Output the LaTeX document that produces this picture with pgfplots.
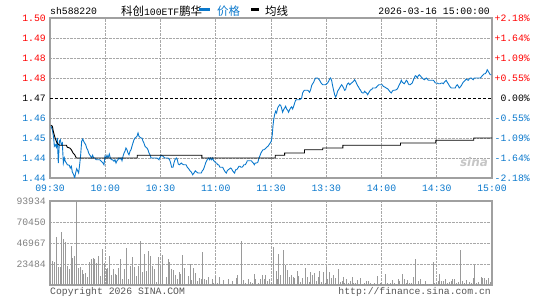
\documentclass[border=0pt]{standalone}
\usepackage{pgfplots}
\pgfplotsset{compat=1.18}
\usepackage{fontspec}
\newfontfamily\mono{Liberation Mono}
\newfontfamily\cjk{Noto Sans CJK SC}
\definecolor{pb}{HTML}{0A78CC}
\definecolor{lblue}{HTML}{0A78CC}
\definecolor{gridc}{HTML}{A8A8A8}
\definecolor{framec}{HTML}{A0A0A0}
\definecolor{volc}{HTML}{9A9A9A}
\definecolor{txtg}{HTML}{808080}
\definecolor{copyg}{HTML}{555555}
\begin{document}
\begin{tikzpicture}
\path[use as bounding box] (0bp,0bp) rectangle (545bp,300bp);
\tikzset{lab/.style={font=\mono\fontsize{9.8}{11}\selectfont, inner sep=0pt}}
% ---------------- price panel ----------------
\begin{axis}[
  at={(50bp,122bp)}, anchor=south west,
  scale only axis, width=442bp, height=160bp,
  xmin=0, xmax=240, ymin=1.436, ymax=1.500,
  xtick={0,30,60,90,120,150,180,210,240},
  ytick={1.436,1.444,1.452,1.460,1.476,1.484,1.492,1.500},
  xticklabels={}, yticklabels={},
  ticklabel style={opacity=0},
  major tick length=0pt,
  grid=major,
  grid style={densely dotted, color=gridc, line width=0.7bp},
  axis line style={framec, line width=1.1bp},
  clip=true,
]
\addplot[black, densely dashed, line width=0.8bp] coordinates {(0,1.468) (240,1.468)};
\addplot[pb, line width=0.9bp] coordinates {
(0.5,1.4567)(1.3,1.4553)(2.0,1.4520)(2.35,1.4487)(2.9,1.4493)(3.45,1.4483)(4.0,1.4520)(4.5,1.4420)(5.1,1.4507)(5.6,1.4513)(6.15,1.4493)(6.7,1.4500)(7.25,1.4420)(7.8,1.4440)(8.3,1.4427)(8.9,1.4420)(9.4,1.4413)(10.5,1.4411)(11.0,1.4400)(11.6,1.4407)(12.1,1.4384)(12.85,1.4373)(13.4,1.4360)(13.9,1.4380)(14.5,1.4397)(15.0,1.4389)(15.55,1.4380)(16.1,1.4413)(16.65,1.4453)(17.2,1.4507)(17.75,1.4516)(18.3,1.4507)(18.8,1.4500)(19.4,1.4493)(19.9,1.4480)(20.45,1.4473)(21.0,1.4460)(21.5,1.4453)(22.1,1.4447)(22.6,1.4440)(23.15,1.4451)(23.7,1.4440)(24.25,1.4440)(25.15,1.4433)(26.05,1.4433)(26.95,1.4433)(27.85,1.4427)(28.75,1.4420)(29.3,1.4413)(29.85,1.4447)(30.4,1.4440)(30.95,1.4451)(31.5,1.4440)(32.2,1.4456)(32.75,1.4440)(33.3,1.4433)(34.0,1.4433)(34.75,1.4427)(35.3,1.4433)(35.85,1.4420)(36.4,1.4429)(36.9,1.4433)(37.45,1.4440)(38.0,1.4436)(38.55,1.4440)(39.1,1.4429)(39.65,1.4447)(40.2,1.4460)(40.7,1.4467)(41.25,1.4480)(41.8,1.4473)(42.35,1.4460)(42.9,1.4453)(43.45,1.4467)(44.0,1.4473)(44.5,1.4487)(45.05,1.4500)(45.6,1.4513)(46.15,1.4520)(46.7,1.4523)(47.25,1.4527)(47.8,1.4540)(48.3,1.4527)(48.85,1.4523)(49.4,1.4520)(49.95,1.4520)(50.5,1.4507)(51.0,1.4500)(51.6,1.4487)(52.1,1.4483)(52.65,1.4480)(53.2,1.4473)(53.75,1.4460)(54.3,1.4453)(54.85,1.4440)(55.9,1.4440)(57.0,1.4440)(58.1,1.4440)(59.2,1.4433)
(59.5,1.4440)(60.45,1.4451)(61.35,1.4447)(62.25,1.4440)(63.15,1.4440)(64.05,1.4440)(64.95,1.4433)(65.5,1.4420)(66.05,1.4403)(66.8,1.4403)(67.3,1.4420)(67.85,1.4433)(68.6,1.4440)(69.15,1.4433)(69.65,1.4416)(70.2,1.4413)(70.75,1.4416)(71.3,1.4420)(71.85,1.4416)(72.55,1.4413)(73.1,1.4413)(73.85,1.4413)(74.55,1.4403)(75.3,1.4397)(76.0,1.4389)(76.75,1.4384)(77.45,1.4373)(78.2,1.4380)(78.9,1.4389)(79.6,1.4384)(80.35,1.4380)(81.25,1.4380)(82.15,1.4380)(82.7,1.4389)(83.25,1.4393)(83.95,1.4407)(84.5,1.4420)(85.05,1.4429)(85.6,1.4436)(86.15,1.4440)(86.7,1.4433)(87.2,1.4440)(87.75,1.4433)(88.3,1.4440)(88.85,1.4429)(89.4,1.4427)(89.95,1.4420)(90.5,1.4420)(91.0,1.4413)(91.55,1.4413)(92.3,1.4403)(93.0,1.4403)(93.75,1.4403)(94.45,1.4393)(95.2,1.4384)(95.75,1.4380)(96.25,1.4389)(96.8,1.4393)(97.55,1.4397)(98.1,1.4400)(98.6,1.4397)(99.15,1.4389)(99.7,1.4384)(100.25,1.4380)(100.8,1.4393)(101.35,1.4393)(102.05,1.4400)(102.6,1.4407)(103.15,1.4407)(103.7,1.4403)(104.25,1.4403)(104.8,1.4407)(105.3,1.4413)(106.05,1.4413)(106.6,1.4420)(107.15,1.4429)(107.85,1.4429)(108.6,1.4429)(109.3,1.4429)(109.85,1.4424)(110.4,1.4420)(110.95,1.4413)(111.45,1.4420)(112.2,1.4420)(112.9,1.4424)(113.45,1.4440)(114.0,1.4449)(114.55,1.4460)(115.1,1.4467)(115.65,1.4473)(116.2,1.4473)(116.7,1.4476)(117.25,1.4480)(117.8,1.4484)(118.35,1.4487)(118.9,1.4493)(119.45,1.4499)
(120.15,1.4507)(120.7,1.4533)(121.05,1.4567)(121.45,1.4593)(121.95,1.4613)(122.5,1.4627)(123.05,1.4620)(123.6,1.4640)(124.15,1.4647)(124.7,1.4653)(125.25,1.4651)(125.75,1.4640)(126.3,1.4623)(126.85,1.4633)(127.4,1.4640)(127.95,1.4647)(128.5,1.4636)(129.05,1.4631)(129.55,1.4623)(130.1,1.4633)(130.65,1.4640)(131.2,1.4644)(131.75,1.4636)(132.3,1.4647)(132.85,1.4660)(133.35,1.4671)(133.9,1.4673)(135.5,1.4673)(136.1,1.4676)(136.65,1.4680)(137.15,1.4700)(137.7,1.4707)(138.25,1.4711)(139.9,1.4711)(140.45,1.4707)(140.95,1.4703)(141.5,1.4713)(142.05,1.4729)(142.6,1.4737)(143.15,1.4743)(143.7,1.4753)(144.25,1.4760)(145.3,1.4760)(145.85,1.4756)(146.4,1.4751)(146.95,1.4743)(147.5,1.4737)(148.05,1.4733)(149.65,1.4733)(150.2,1.4737)(150.75,1.4740)(151.3,1.4747)(151.85,1.4756)(152.35,1.4760)(152.9,1.4751)(153.45,1.4729)(154.0,1.4711)(154.55,1.4693)(155.1,1.4684)(155.65,1.4693)(156.15,1.4707)(156.7,1.4713)(157.25,1.4720)(157.8,1.4727)(158.35,1.4733)(158.9,1.4727)(159.45,1.4720)(159.95,1.4711)(160.5,1.4713)(161.05,1.4729)(161.6,1.4737)(162.15,1.4740)(162.7,1.4733)(163.25,1.4737)(163.75,1.4740)(164.3,1.4743)(164.85,1.4747)(165.4,1.4753)(165.95,1.4747)(166.5,1.4737)(167.05,1.4729)(167.55,1.4724)(168.1,1.4716)(168.65,1.4711)(169.2,1.4703)(169.75,1.4700)(170.3,1.4700)(170.85,1.4707)(171.35,1.4703)(171.9,1.4700)(172.45,1.4693)(173.0,1.4700)(173.55,1.4707)(174.1,1.4713)(174.65,1.4713)(175.15,1.4720)(176.8,1.4720)(177.35,1.4724)(177.9,1.4729)(178.45,1.4733)(179.15,1.4733)
(179.9,1.4733)(180.4,1.4733)(180.95,1.4727)(181.7,1.4724)(182.6,1.4720)(183.5,1.4716)(184.4,1.4707)(185.3,1.4700)(185.85,1.4707)(186.4,1.4711)(187.1,1.4711)(188.0,1.4713)(188.55,1.4716)(189.1,1.4724)(189.65,1.4733)(190.2,1.4740)(190.75,1.4751)(191.3,1.4743)(191.8,1.4740)(192.35,1.4737)(192.9,1.4743)(193.45,1.4751)(194.0,1.4747)(194.55,1.4737)(195.1,1.4733)(195.6,1.4733)(196.15,1.4737)(196.7,1.4740)(197.25,1.4751)(197.8,1.4760)(198.35,1.4769)(198.9,1.4767)(199.4,1.4760)(199.95,1.4769)(200.5,1.4773)(201.05,1.4769)(201.6,1.4764)(202.15,1.4760)(202.7,1.4756)(203.2,1.4753)(203.75,1.4756)(204.3,1.4760)(204.85,1.4756)(205.4,1.4751)(208.1,1.4751)(208.65,1.4747)(209.2,1.4740)(210.3,1.4740)(210.8,1.4737)(211.9,1.4737)(212.45,1.4740)(213.0,1.4740)(213.55,1.4737)(214.1,1.4743)(214.6,1.4747)(215.15,1.4751)(215.7,1.4743)(216.25,1.4737)(216.8,1.4729)(217.35,1.4724)(217.9,1.4720)(220.05,1.4720)(220.6,1.4729)(221.15,1.4733)(221.7,1.4727)(222.2,1.4720)(222.75,1.4724)(223.3,1.4729)(223.85,1.4737)(224.4,1.4743)(224.95,1.4747)(225.5,1.4751)(226.0,1.4756)(226.55,1.4753)(227.1,1.4751)(227.65,1.4756)(228.2,1.4760)(228.75,1.4760)(229.3,1.4756)(229.8,1.4753)(230.35,1.4760)(233.6,1.4760)(234.15,1.4764)(234.7,1.4769)(235.25,1.4773)(235.8,1.4777)(236.35,1.4777)(236.9,1.4783)(237.4,1.4793)(237.95,1.4787)(238.5,1.4780)(239.05,1.4773)(239.6,1.4773)
};
\addplot[black, line width=0.9bp] coordinates {
(0.5,1.4571)(1.3,1.4567)(1.8,1.4547)(2.5,1.4527)(3.4,1.4507)(4.3,1.4496)(5.25,1.4491)(8.9,1.4491)(9.4,1.4483)(10.7,1.4480)(11.6,1.4473)(12.5,1.4460)(13.4,1.4453)(14.3,1.4440)(47.4,1.4440)(47.4,1.4451)(82.5,1.4451)(82.5,1.4440)(122.3,1.4440)(122.3,1.4451)(127.4,1.4451)(127.4,1.4460)(138.2,1.4460)(138.2,1.4473)(148.1,1.4473)(148.1,1.4480)(159,1.4480)(159,1.4491)(190.3,1.4491)(190.3,1.4500)(209.5,1.4500)(209.5,1.4511)(230.1,1.4511)(230.1,1.4520)(240,1.4520)
};
\end{axis}
% ---------------- volume panel ----------------
\begin{axis}[
  at={(50bp,15bp)}, anchor=south west,
  scale only axis, width=442bp, height=84bp,
  xmin=0, xmax=240, ymin=0, ymax=93934,
  xtick={0,30,60,90,120,150,180,210,240},
  ytick={23484,46967,70450,93934},
  xticklabels={}, yticklabels={},
  ticklabel style={opacity=0},
  major tick length=0pt,
  grid=major,
  grid style={densely dotted, color=gridc, line width=0.7bp},
  axis line style={framec, line width=1.1bp},
  scaled y ticks=false,
]
\addplot[ycomb, draw=volc, line width=0.9bp] coordinates {
(0.4,4500)(1.1,26800)(2.35,25700)(3.45,53700)(4.5,20100)(5.45,20100)(6.15,59300)(7.25,51400)(8.3,48100)(9.4,21200)(10.5,17900)(11.6,43600)(12.1,30200)(13.2,32400)(14.3,93934)(15.4,19000)(16.3,20100)(17.4,16800)(18.1,12300)(19.2,13400)(20.3,8900)(21.35,25700)(22.45,29100)(23.5,30200)(24.25,29100)(25.15,24600)(26.25,32400)(27.3,10100)(28.4,40200)(29.5,24600)(30.4,17900)(31.3,19000)(32.2,32400)(33.3,11200)(34.4,17900)(35.5,12300)(36.0,11200)(37.1,19000)(38.2,29100)(39.3,6700)(40.35,17900)(41.45,41400)(42.5,6700)(43.6,21200)(44.7,31300)(45.8,20100)(46.9,10100)(48.0,21200)(49.05,49200)(50.1,14500)(51.2,34700)(52.3,15700)(53.4,38000)(54.5,32400)(55.55,21200)(56.65,17900)(57.7,3400)(58.8,31300)(59.9,21200)(61.0,33500)(62.1,1100)(63.15,8900)(64.25,29100)(64.8,25700)(65.9,17900)(66.95,16800)(68.05,11200)(69.1,6700)(70.2,14500)(70.75,12300)(71.85,33500)(72.95,19000)(74.0,1100)(75.1,10100)(76.2,23500)(76.75,5600)(77.8,19000)(78.9,13400)(80.0,4500)(81.1,7800)(82.15,6700)(82.7,36900)(83.8,6700)(84.9,5600)(85.95,8900)(87.05,1100)(88.15,6700)(88.7,2200)(89.75,10100)(90.85,2200)(91.95,8900)(93.0,1100)(94.1,5600)(95.2,1100)(96.8,6700)(97.9,1100)(99.0,4500)(100.1,1100)(101.15,7800)(101.7,11200)(102.8,1100)(103.9,49200)(104.95,5600)(106.05,2200)(107.65,6700)(108.75,3400)(109.85,2200)(110.95,12300)(111.45,6700)(113.1,2200)(114.2,6700)(115.25,11200)(116.35,6700)(116.9,11200)(118.0,4500)(119.05,6700)(120.15,2200)
(121.6,42500)(122.8,15700)(123.4,6700)(124.3,34700)(125.4,11200)(126.5,39100)(127.6,22400)(128.7,15700)(129.2,16800)(130.0,8900)(131.0,11200)(132.0,8900)(133.0,7800)(134.5,15700)(135.0,10100)(136.0,3400)(137.0,7800)(138.6,19000)(139.6,8900)(140.7,3400)(141.3,14500)(142.3,11200)(143.4,13400)(144.5,4500)(145.6,8900)(146.1,15700)(147.2,3400)(148.3,14500)(149.4,2200)(149.9,20100)(150.9,6700)(152.0,14500)(153.0,7800)(154.0,11200)(155.0,7800)(156.5,17900)(157.6,3400)(158.7,4500)(159.2,8900)(160.0,2200)(161.0,6700)(162.0,2200)(163.0,4500)(164.0,8900)(165.0,2200)(166.0,2200)(167.0,5600)(168.5,7800)(169.6,1100)(170.6,2200)(171.7,4500)(172.8,4500)(173.9,2200)(174.9,1100)(176.0,2200)(177.0,1100)(178.0,10100)(179.2,2200)(180.0,2200)(182.0,12300)(183.0,2200)(184.0,1100)(185.0,2200)(186.0,5600)(187.0,2200)(188.0,1100)(189.0,6700)(190.0,4500)(191.5,12300)(192.6,6700)(193.7,2200)(194.2,5600)(195.3,2200)(196.4,2200)(197.5,8900)(198.2,29100)(198.7,5600)(199.8,4500)(201.0,6700)(202.0,1100)(203.0,1100)(204.0,4500)(205.0,1100)(206.0,1100)(207.0,1100)(208.0,25700)(209.0,2200)(210.0,2200)(211.0,4500)(211.6,12300)(212.7,4500)(213.8,4500)(214.9,6700)(216.0,2200)(217.0,3400)(218.0,4500)(218.6,6700)(219.7,6700)(220.8,2200)(221.8,3400)(222.6,39100)(223.7,4500)(224.8,2200)(225.9,5600)(227.0,1100)(228.0,3400)(229.0,2200)(229.7,7800)(230.7,22400)(231.8,2200)(232.9,3400)(234.0,8900)(235.0,7800)(236.0,7800)(237.0,5600)(238.0,7800)(239.0,3400)
};
\end{axis}
% ---------------- labels ----------------
\foreach \yy/\t/\c in {282/1.50/red, 262/1.49/red, 242/1.48/red, 222/1.48/red, 202/1.47/black, 182/1.46/lblue, 162/1.45/lblue, 142/1.44/lblue, 122/1.44/lblue}
  \node[lab, anchor=east, text=\c] at (46bp,\yy bp) {\t};
\foreach \yy/\t/\c in {282/+2.18\%/red, 262/+1.64\%/red, 242/+1.09\%/red, 222/+0.55\%/red, 202/0.00\%/black, 182/-0.55\%/lblue, 162/-1.09\%/lblue, 142/-1.64\%/lblue, 122/-2.18\%/lblue}
  \node[lab, anchor=east, text=\c] at (530bp,\yy bp) {\t};
\foreach \k/\t in {0/09:30, 1/10:00, 2/10:30, 3/11:00, 4/11:30, 5/13:30, 6/14:00, 7/14:30, 8/15:00}{
  \pgfmathsetmacro{\xx}{50+55.25*\k}
  \node[lab, anchor=center, text=lblue] at (\xx bp,112bp) {\t};
}
\foreach \yy/\t in {99/93934, 78/70450, 57/46967, 36/23484}
  \node[lab, anchor=east, text=txtg] at (46bp,\yy bp) {\t};
% header
\node[lab, anchor=west] at (50bp,288.5bp) {sh588220};
\node[anchor=west, inner sep=0pt] at (121bp,288.5bp) {{\cjk\fontsize{11.5}{12}\selectfont 科创}{\mono\fontsize{9.8}{11}\selectfont 100ETF}{\cjk\fontsize{11.5}{12}\selectfont 鹏华}};
\node[anchor=west, inner sep=0pt] at (199bp,290bp) {\textcolor{pb}{\rule{11bp}{3bp}}};
\node[anchor=west, inner sep=0pt, text=lblue] at (217bp,288.5bp) {\cjk\fontsize{11.5}{12}\selectfont 价格};
\node[anchor=west, inner sep=0pt] at (251bp,290bp) {\textcolor{black}{\rule{8bp}{3bp}}};
\node[anchor=west, inner sep=0pt] at (265bp,288.5bp) {\cjk\fontsize{11.5}{12}\selectfont 均线};
\node[lab, anchor=east] at (490bp,288.5bp) {2026-03-16 15:00:00};
% watermark
\node[inner sep=0pt, text=gray!45, font=\fontspec{DejaVu Sans}\bfseries\itshape\fontsize{12}{12}\selectfont] at (474bp,138bp) {sina};
% footer
\node[lab, anchor=west, text=copyg] at (50bp,8bp) {Copyright 2026 SINA.COM};
\node[lab, anchor=east, text=copyg] at (491bp,8bp) {http://finance.sina.com.cn};
\end{tikzpicture}
\end{document}
